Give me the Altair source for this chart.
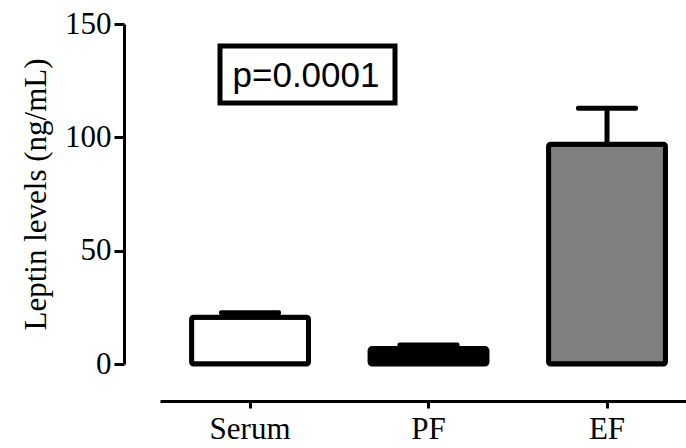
import altair as alt
import pandas as pd

groups = ["Serum", "PF", "EF"]
means = [20.6, 6.8, 97.0]
sems = [2.0, 1.6, 15.8]
fills = ["#ffffff", "#000000", "#808080"]
p_label = "p=0.0001"

df = pd.DataFrame({
    "group": groups,
    "mean": means,
    "upper": [m + s for m, s in zip(means, sems)],
})

xenc = alt.X(
    "group:N",
    sort=groups,
    scale=alt.Scale(paddingInner=0.345, paddingOuter=0.146, align=0.606),
    axis=alt.Axis(
        title=None, labelAngle=0, offset=37, domainColor="black", domainWidth=3,
        tickColor="black", tickWidth=3, tickSize=7, labelFont="Liberation Serif",
        labelFontSize=31, labelColor="black", labelPadding=6, grid=False,
    ),
)
yscale = alt.Scale(domain=[0, 150], nice=False, zero=True)
yaxis = alt.Axis(
    title="Leptin levels (ng/mL)", values=[0, 50, 100, 150], offset=36,
    domainColor="black", domainWidth=3, tickColor="black", tickWidth=3, tickSize=10,
    labelFont="Liberation Serif", labelFontSize=31, labelColor="black", labelPadding=3,
    titleFont="Liberation Serif", titleFontSize=31, titleFontWeight="normal",
    titleColor="black", titlePadding=12, grid=False,
)

base = alt.Chart(df)

stem = base.mark_rule(color="black", strokeWidth=5).encode(
    x=xenc, y=alt.Y("mean:Q", scale=yscale, axis=yaxis), y2="upper:Q"
)
cap = base.mark_tick(color="black", opacity=1, size=62, thickness=5, cornerRadius=2).encode(
    x=xenc, y=alt.Y("upper:Q", scale=yscale)
)
bars = base.mark_bar(stroke="black", strokeWidth=5, strokeJoin="round", cornerRadius=2, opacity=1).encode(
    x=xenc,
    y=alt.Y("mean:Q", scale=yscale, axis=yaxis),
    fill=alt.Fill("group:N", scale=alt.Scale(domain=groups, range=fills), legend=None),
)

box = alt.Chart(pd.DataFrame({"label": [p_label]})).mark_rect(
    fill="white", stroke="black", strokeWidth=5
).encode(x=alt.value(60), x2=alt.value(235), y=alt.value(22), y2=alt.value(79))
txt = alt.Chart(pd.DataFrame({"label": [p_label]})).mark_text(
    font="Liberation Sans", fontSize=35, color="black", align="center", baseline="middle"
).encode(x=alt.value(146), y=alt.value(52), text="label:N")

chart = alt.layer(stem, cap, bars, box, txt).properties(
    width=526, height=340,
    background="white",
    autosize=alt.AutoSizeParams(type="none"),
    padding={"left": 160, "top": 24, "right": 0, "bottom": 84},
).configure_view(stroke="transparent", strokeWidth=0)

chart.save("out.html", embed_options={"renderer": "svg", "actions": False})
